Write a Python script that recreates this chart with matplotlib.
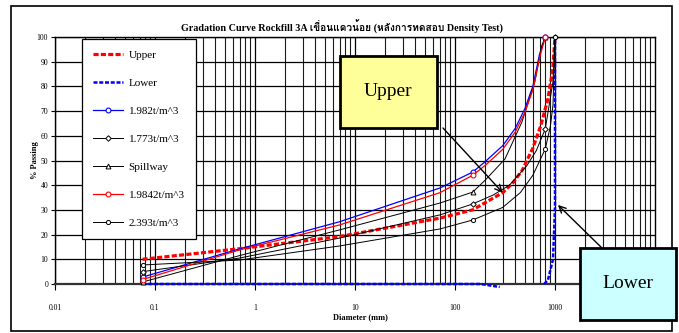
import matplotlib
matplotlib.use("Agg")
import matplotlib.pyplot as plt
from matplotlib import font_manager
from matplotlib.ft2font import FT2Font
from matplotlib.patches import Rectangle
from matplotlib.transforms import Bbox
from matplotlib.ticker import LogLocator, NullFormatter, FixedLocator, FixedFormatter

nan = float("nan")

# Curvas granulométricas (diámetro en mm, % que pasa)
upper_d = [0.075, 0.7, 7, 71, 150, 300, 380, 470, 600, 720, 850, 950, 1000]
upper_p = [10, 14.3, 19.2, 26.7, 30, 37, 41, 46, 55, 64, 75, 87, 100]

# tramo visible de la envolvente inferior (el resto queda bajo el eje)
lower_d = [0.075, 180, 280, nan, 780, 850, 955, 1000, 1000]
lower_p = [0, 0, -1.2, nan, 0, 1.6, 10, 31, 100]

d_1982 = [0.075, 0.7, 7, 71, 150, 200, 300, 400, 500, 600, 700, 800]
p_1982 = [2.8, 14.2, 25.2, 38.9, 45.3, 49.5, 56, 63, 71, 80, 93, 100]

d_1773 = [0.075, 0.7, 7, 71, 150, 240, 350, 525, 650, 800, 955, 1000]
p_1773 = [5, 10.5, 18.6, 28, 32.4, 36, 40, 48, 54, 62.8, 82, 100]

spill_d = [0.075, 0.7, 7, 71, 150, 200, 316, 467, 630, 740, 800]
spill_p = [0.8, 11.5, 21.9, 32.8, 37.2, 42, 50.6, 65.6, 82, 96.7, 100]

d_19842 = [0.075, 0.7, 7, 71, 150, 200, 300, 400, 500, 600, 700, 800]
p_19842 = [1.8, 13.8, 23.9, 37, 44, 48, 54.5, 61.5, 69.5, 78.5, 91.5, 100]

d_2393 = [0.075, 0.7, 7, 71, 150, 300, 450, 600, 800, 900, 955, 1000]
p_2393 = [7.7, 9.7, 15.4, 22.3, 25.9, 31, 37, 44, 54.7, 64, 72.5, 100]

x_ticks = [0.01, 0.1, 1, 10, 100, 1000]
x_labels = ["0.01", "0.1", "1", "10", "100", "1000"]

title = "Gradation Curve Rockfill 3A เขื่อนแควน้อย (หลังการทดสอบ Density Test)"


def thai_font():
    # busca alguna fuente instalada que tenga glifos tailandeses
    for f in font_manager.fontManager.ttflist:
        try:
            if 0x0E40 in FT2Font(f.fname).get_charmap():
                return f.name
        except Exception:
            pass
    return None


families = ["Liberation Serif"]
th = thai_font()
if th:
    families.append(th)
families.append("DejaVu Sans")
plt.rcParams["font.family"] = families

W, H = 679, 333


def px(x, y):
    # pixeles de la imagen (origen arriba a la izquierda) -> fracción de figura
    return x / W, 1 - y / H


fig = plt.figure(figsize=(W / 100, H / 100), dpi=100)
fig.patch.set_facecolor("white")

# marco exterior del gráfico
fig.add_artist(Rectangle(px(11, 331), 661 / W, 325 / H, transform=fig.transFigure,
                         fill=False, edgecolor="black", lw=1.2, zorder=0))

ax = fig.add_axes([55 / W, 49 / H, 600 / W, 247 / H])
ax.set_xscale("log")
ax.set_xlim(0.01, 10000)
ax.set_ylim(0, 100)
ax.set_axisbelow(True)

ax.xaxis.set_major_locator(FixedLocator(x_ticks))
ax.xaxis.set_major_formatter(FixedFormatter(x_labels))
ax.xaxis.set_minor_locator(LogLocator(base=10, subs=range(2, 10), numticks=20))
ax.xaxis.set_minor_formatter(NullFormatter())
ax.set_yticks(range(0, 101, 10))

ax.grid(which="major", axis="y", color="black", lw=0.9)
ax.grid(which="major", axis="x", color="black", lw=0.9)
ax.grid(which="minor", axis="x", color="#1a1a1a", lw=0.8)
ax.tick_params(axis="x", which="major", length=4, pad=10.5, labelsize=5.5, direction="out")
ax.tick_params(axis="x", which="minor", length=0)
ax.tick_params(axis="y", length=3, pad=2, labelsize=5.5)
for s in ax.spines.values():
    s.set_color("black")
    s.set_linewidth(1)
ax.spines["bottom"].set_linewidth(1.6)
ax.spines["bottom"].set_color("#333333")

dots = (0, (1.6, 0.7))
ax.plot(upper_d, upper_p, color="red", lw=2.3, ls=dots, label="Upper", clip_on=False, zorder=3)
lower_line, = ax.plot(lower_d, lower_p, color="blue", lw=1.8, ls=dots, label="Lower", zorder=3)
# deja ver la línea sobre el eje x sin recortarla a la mitad
lower_line.set_clip_box(Bbox.from_extents(50, 45, 660, 300))
ax.plot(d_1982, p_1982, color="blue", lw=0.9, marker="o", ms=3.5, mfc="white", mew=0.8,
        markevery=[0, 4, 11], label="1.982t/m^3", clip_on=False, zorder=4)
ax.plot(d_1773, p_1773, color="black", lw=0.7, marker="D", ms=2.8, mfc="white", mew=0.7,
        markevery=[0, 4, 9, 11], label="1.773t/m^3", clip_on=False, zorder=4)
ax.plot(spill_d, spill_p, color="black", lw=0.7, marker="^", ms=3.5, mfc="white", mew=0.7,
        markevery=[0, 4, 10], label="Spillway", clip_on=False, zorder=4)
ax.plot(d_19842, p_19842, color="red", lw=0.9, marker="o", ms=3.5, mfc="white", mew=0.8,
        markevery=[0, 4, 11], label="1.9842t/m^3", clip_on=False, zorder=4)
ax.plot(d_2393, p_2393, color="black", lw=0.7, marker="o", ms=3, mfc="white", mew=0.7,
        markevery=[0, 4, 8, 11], label="2.393t/m^3", clip_on=False, zorder=4)

leg = ax.legend(loc="upper left", bbox_to_anchor=(0.045, 0.992), borderaxespad=0,
                fontsize=8, labelspacing=1.64, handlelength=2.7, handletextpad=0.5,
                borderpad=1.0, numpoints=1, fancybox=False, framealpha=1,
                edgecolor="black")
leg.get_frame().set_linewidth(0.9)
leg.set_zorder(6)

fig.text(*px(342, 27), title, ha="center", va="center", fontsize=7.3, fontweight="bold")
fig.text(*px(35, 160), "% Passing", ha="center", va="center", rotation=90,
         fontsize=6, fontweight="bold")
fig.text(*px(360, 317), "Diameter (mm)", ha="center", va="center", fontsize=6,
         fontweight="bold")

# cuadros de texto con flecha
fig.add_artist(Rectangle(px(340, 128), 97 / W, 72 / H, transform=fig.transFigure,
                         facecolor="#FFFF99", edgecolor="black", lw=2, zorder=7))
fig.text(*px(388, 92), "Upper", ha="center", va="center", fontsize=14, zorder=8)
ax.annotate("", xy=(300, 37), xycoords="data", xytext=px(443, 128),
            textcoords="figure fraction",
            arrowprops=dict(arrowstyle="->", color="black", lw=1, shrinkA=0, shrinkB=0,
                            mutation_scale=12), zorder=7)

fig.add_artist(Rectangle(px(580, 320), 96 / W, 72 / H, transform=fig.transFigure,
                         facecolor="#CCFFFF", edgecolor="black", lw=2, zorder=7,
                         clip_on=False))
fig.text(*px(628, 284), "Lower", ha="center", va="center", fontsize=14, zorder=8)
ax.annotate("", xy=(1070, 32), xycoords="data", xytext=px(603, 249),
            textcoords="figure fraction",
            arrowprops=dict(arrowstyle="->", color="black", lw=1, shrinkA=0, shrinkB=0,
                            mutation_scale=12), zorder=7, annotation_clip=False)

fig.savefig("out.png", dpi=100)
